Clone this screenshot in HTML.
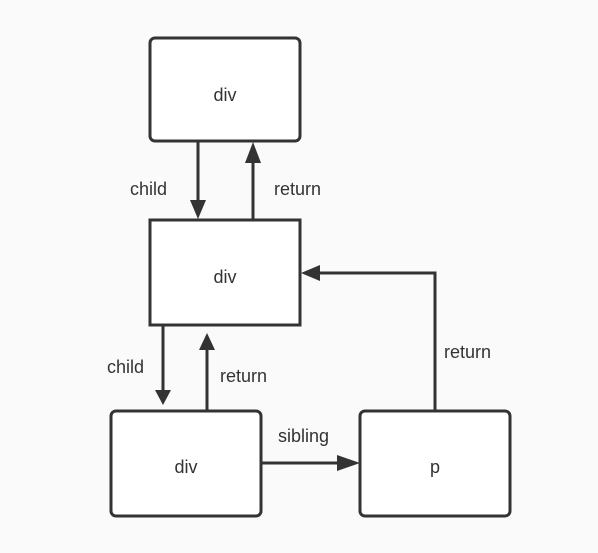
<!DOCTYPE html>
<html><head><style>html,body{margin:0;padding:0;background:#fafafa;width:598px;height:553px;overflow:hidden}</style></head>
<body>
<svg width="598" height="553" viewBox="0 0 598 553" xmlns="http://www.w3.org/2000/svg" font-family="Liberation Sans, sans-serif" font-size="18" fill="#333">
<rect width="598" height="553" fill="#fafafa"/>
<g stroke="#333" stroke-width="3" fill="#fff">
<rect x="150" y="38" width="150" height="103" rx="5"/>
<rect x="150" y="220" width="150" height="105"/>
<rect x="111" y="411" width="150" height="105" rx="5"/>
<rect x="360" y="411" width="150" height="105" rx="5"/>
</g>
<g stroke="#333" stroke-width="3" fill="none">
<line x1="198" y1="141" x2="198" y2="200"/>
<line x1="253" y1="220" x2="253" y2="162"/>
<line x1="163" y1="325" x2="163" y2="390"/>
<line x1="207" y1="411" x2="207" y2="350"/>
<line x1="261" y1="463" x2="340" y2="463"/>
<polyline points="435,411 435,273 320,273"/>
</g>
<g fill="#333">
<polygon points="190,200 206,200 198,219"/>
<polygon points="245,163 261,163 253,142"/>
<polygon points="155,390 171,390 163,405"/>
<polygon points="199,350 215,350 207,333"/>
<polygon points="337,455 337,471 360,463"/>
<polygon points="320,265 320,281 301,273"/>
</g>
<g text-anchor="middle">
<text x="225" y="101">div</text>
<text x="225" y="283">div</text>
<text x="186" y="473">div</text>
<text x="435" y="473">p</text>
</g>
<text x="130" y="195">child</text>
<text x="274" y="195">return</text>
<text x="107" y="373">child</text>
<text x="220" y="382">return</text>
<text x="278" y="442">sibling</text>
<text x="444" y="358">return</text>
</svg>
</body></html>
